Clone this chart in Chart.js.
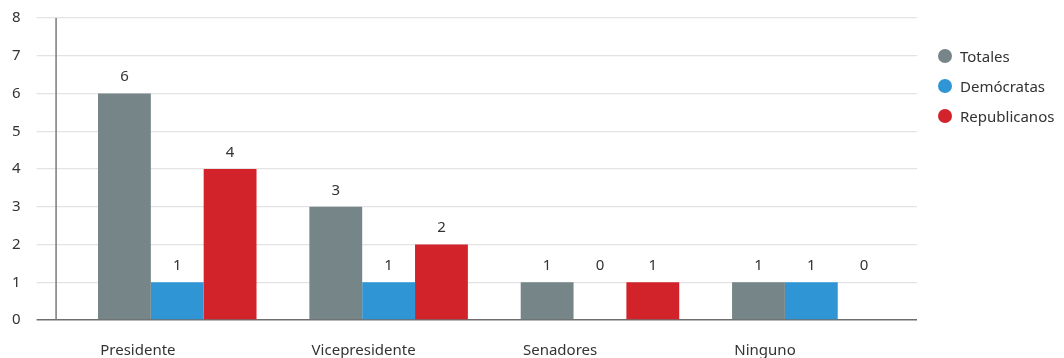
<!DOCTYPE html>
<html lang="es">
<head>
<meta charset="utf-8">
<title>Votos por cargo</title>
<script src="https://cdn.jsdelivr.net/npm/chart.js@4.4.1/dist/chart.umd.min.js"></script>
<style>
  html, body { margin: 0; padding: 0; background: #fff; }
  .wrap { position: relative; width: 1064px; height: 358px; }
  canvas { display: block; }
  .leyenda {
    position: absolute; left: 938px; top: 46px; margin: 0; padding: 0;
    list-style: none; font-family: "Noto Sans", sans-serif; font-size: 15px; color: #333;
  }
  .leyenda li { height: 30px; line-height: 20px; display: flex; align-items: flex-start; }
  .leyenda span.dot { width: 14px; height: 14px; border-radius: 50%; margin: 3px 8px 0 0; }
</style>
</head>
<body>
<div class="wrap">
  <canvas id="grafico" width="1064" height="358"></canvas>
  <ul class="leyenda" id="leyenda"></ul>
</div>
<script>
// --- DATOS ---
const categorias = ['Presidente', 'Vicepresidente', 'Senadores', 'Ninguno'];
const totales = [6, 3, 1, 1];
const democratas = [1, 1, 0, 1];
const republicanos = [4, 2, 1, 0];
const ticksY = [0, 1, 2, 3, 4, 5, 6, 7, 8];

const series = [
  { nombre: 'Totales', datos: totales, color: '#768588' },
  { nombre: 'Demócratas', datos: democratas, color: '#2f95d4' },
  { nombre: 'Republicanos', datos: republicanos, color: '#d2232b' }
];

const fuente = '"Noto Sans", sans-serif';

// Línea vertical del eje Y, un poco a la izquierda del área de barras
const lineaEje = {
  id: 'lineaEje',
  beforeDatasetsDraw(chart) {
    const { ctx, chartArea } = chart;
    const x = chartArea.left - 15.5;
    ctx.save();
    ctx.strokeStyle = '#7a7a7a';
    ctx.lineWidth = 1.5;
    ctx.beginPath();
    ctx.moveTo(x, chartArea.top);
    ctx.lineTo(x, chartArea.bottom);
    ctx.stroke();
    ctx.restore();
  }
};

// Valores encima de cada barra (los ceros a la altura de 1)
const etiquetasValor = {
  id: 'etiquetasValor',
  afterDatasetsDraw(chart) {
    const { ctx } = chart;
    const y1 = chart.scales.y.getPixelForValue(1);
    ctx.save();
    ctx.font = '15px ' + fuente;
    ctx.fillStyle = '#333';
    ctx.textAlign = 'center';
    ctx.textBaseline = 'bottom';
    chart.data.datasets.forEach((ds, i) => {
      chart.getDatasetMeta(i).data.forEach((barra, j) => {
        const top = Math.min(barra.y, y1);
        ctx.fillText(String(ds.data[j]), barra.x, top - 9);
      });
    });
    ctx.restore();
  }
};

new Chart(document.getElementById('grafico'), {
  type: 'bar',
  data: {
    labels: categorias,
    datasets: series.map(s => ({
      label: s.nombre,
      data: s.datos,
      backgroundColor: s.color,
      borderWidth: 0,
      categoryPercentage: 0.75,
      barPercentage: 1.0
    }))
  },
  options: {
    responsive: false,
    animation: false,
    // el eje X cuenta su padding dos veces, de ahí el valor negativo abajo
    layout: { padding: { top: 18, left: 12, right: 147, bottom: -24 } },
    plugins: {
      legend: { display: false },
      tooltip: { enabled: false }
    },
    scales: {
      x: {
        grid: { display: false, drawTicks: false },
        border: { display: false },
        ticks: {
          align: 'start',
          labelOffset: -77,
          padding: 22,
          color: '#333',
          font: { family: fuente, size: 15 }
        }
      },
      y: {
        min: 0,
        max: 8,
        afterBuildTicks(scale) {
          scale.ticks = ticksY.map(v => ({ value: v }));
        },
        grid: {
          color: c => (c.tick && c.tick.value === 0 ? '#6e6e6e' : '#e3e3e3'),
          lineWidth: c => (c.tick && c.tick.value === 0 ? 1.5 : 1.2),
          tickLength: 35
        },
        border: { display: false },
        ticks: {
          crossAlign: 'far',
          padding: 8,
          color: '#333',
          font: { family: fuente, size: 15 }
        }
      }
    }
  },
  plugins: [lineaEje, etiquetasValor]
});

// Leyenda a la derecha
const leyenda = document.getElementById('leyenda');
series.forEach(s => {
  const li = document.createElement('li');
  li.innerHTML = `<span class="dot" style="background:${s.color}"></span>${s.nombre}`;
  leyenda.appendChild(li);
});
</script>
</body>
</html>
